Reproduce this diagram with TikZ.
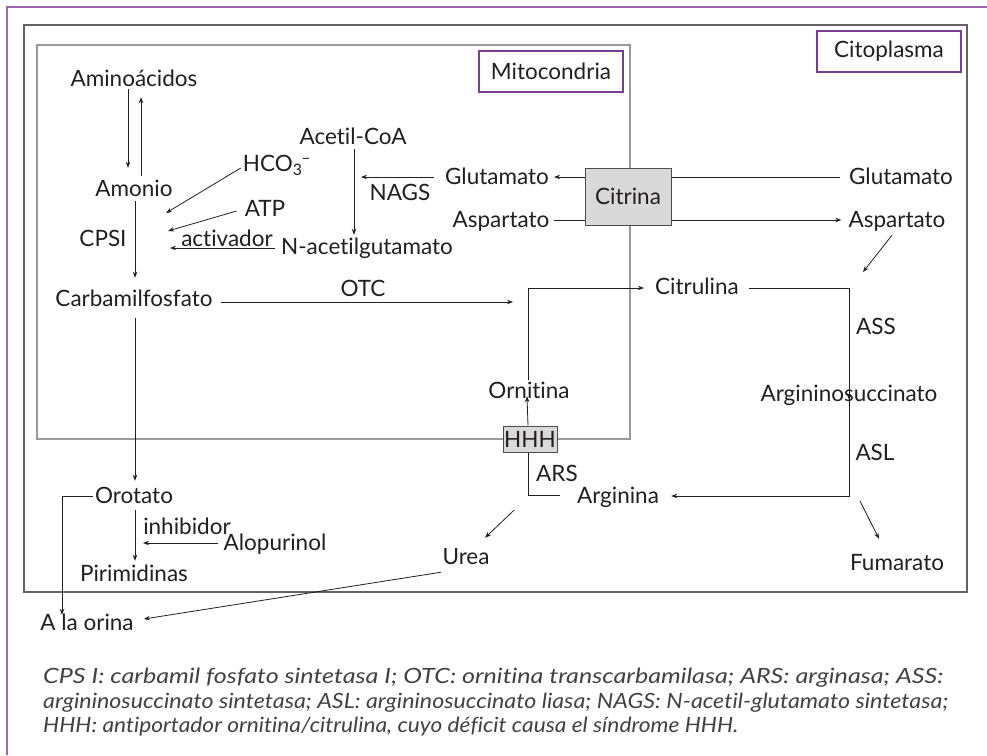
\documentclass[tikz,border=0pt]{standalone}
\usepackage{graphicx}
\usepackage{fontspec}
\setmainfont{Lato}[Ligatures={NoCommon,NoContextual}]
\usetikzlibrary{arrows.meta}
\definecolor{frameviolet}{HTML}{9A6AAE}
\definecolor{labelviolet}{HTML}{7A3E8E}
\definecolor{boxgray}{HTML}{D9D9D9}
\definecolor{inkcol}{HTML}{231F20}
% set a legend line to a given width, keeping its height
\newcommand\legendrow[2]{\resizebox{#1}{\height}{#2}}
\begin{document}
\begin{tikzpicture}[x=1pt,y=-1pt,
  lbl/.style={inner sep=0pt,text=inkcol,font=\fontsize{22.5}{26}\selectfont,text height=16pt,text depth=0pt},
  tagbox/.style={draw=labelviolet,line width=1.1pt,minimum width=144pt,minimum height=41pt,inner sep=0pt,text=inkcol,font=\fontsize{22.5}{26}\selectfont},
  carrier/.style={draw=inkcol!80,line width=1pt,fill=boxgray,inner sep=0pt,text=inkcol,font=\fontsize{22.5}{26}\selectfont},
  conn/.style={draw=inkcol,line width=0.8pt},
  arr/.style={conn,-{Stealth[length=6pt,width=4.5pt]}},
  legendline/.style={inner sep=0pt,anchor=west,text=inkcol!85,font=\fontsize{21}{24}\selectfont\itshape}]
\useasboundingbox (0,0) rectangle (987,755);
\fill[white] (0,0) rectangle (987,755);

% outer frame (left and top edges)
\draw[frameviolet,line width=1.6pt] (7,755) -- (7,7) -- (987,7);

% compartments
\draw[inkcol!70,line width=1.1pt] (24,25) rectangle (967,592);
\draw[black!40,line width=1.3pt] (37,45) rectangle (630,439);
\node[tagbox] (mitotag) at (551,71.5) {Mitocondria};
\node[tagbox] (citotag) at (889,51.5) {Citoplasma};

% metabolites and enzymes
\node[lbl] (amino) at (134,78) {Aminoácidos};
\node[lbl] (amonio) at (134,188) {Amonio};
\node[lbl] (hco) at (277,163) {HCO\textsubscript{3}\kern-1pt\textsuperscript{–}};
\node[lbl] (atp) at (265,208) {ATP};
\node[lbl] (cpsi) at (103,238) {CPSI};
\node[lbl] (activ) at (227,238) {activador};
\node[lbl] (nacetil) at (367,246) {N-acetilgutamato};
\node[lbl] (acetil) at (353,136) {Acetil-CoA};
\node[lbl] (nags) at (400,192) {NAGS};
\node[lbl] (glul) at (497,176) {Glutamato};
\node[lbl] (aspl) at (501,219) {Aspartato};
\node[lbl] (glur) at (901,176) {Glutamato};
\node[lbl] (aspr) at (897,219) {Aspartato};
\node[lbl] (citrul) at (697,286) {Citrulina};
\node[lbl] (ass) at (876,326) {ASS};
\node[lbl] (argsuc) at (849,393) {Argininosuccinato};
\node[lbl] (asl) at (875,452) {ASL};
\node[lbl] (arginina) at (618,495) {Arginina};
\node[lbl] (fumarato) at (897,562) {Fumarato};
\node[lbl] (ornitina) at (529,390) {Ornitina};
\node[lbl] (ars) at (557,473) {ARS};
\node[lbl] (carb) at (134,298) {Carbamilfosfato};
\node[lbl] (otc) at (363,288) {OTC};
\node[lbl] (orotato) at (134,495) {Orotato};
\node[lbl] (inhib) at (187,526) {inhibidor};
\node[lbl] (alopur) at (275,542) {Alopurinol};
\node[lbl] (pirim) at (134,573) {Pirimidinas};
\node[lbl] (urea) at (466,556) {Urea};
\node[lbl] (orina) at (87,622) {A la orina};

% connector bends
\coordinate (ornup) at (528,288);
\coordinate (citturn) at (849,288);
\coordinate (aslturn) at (849,496);
\coordinate (arsturn) at (528,495);
\coordinate (oroturn) at (62,496);

% citrin carrier: glutamate in, aspartate out
\draw[conn] ([xshift=-9pt]glur.west |- 0,177) -- (671,177);
\draw[conn] ([xshift=4pt]aspl.east |- 0,220) -- (585,220);
\node[carrier,minimum width=86pt,minimum height=57pt] (citrina) at (628,196.5) {Citrina};
\draw[arr] (citrina.west |- 0,177) -- ([xshift=5pt]glul.east |- 0,177);
\draw[arr] (citrina.east |- 0,220) -- ([xshift=-7pt]aspr.west |- 0,220);

% ornithine/citrulline antiporter
\draw[arr] ([shift={(-1,-2)}]ornitina.north) -- (ornup) -- ([xshift=-11pt]citrul.west |- ornup);
\node[carrier,minimum width=54pt,minimum height=26pt] (hhh) at (530,439) {HHH};
\draw[arr] (hhh.north -| ornup) -- ([shift={(-1,-2)}]ornitina.south -| ornup);
\draw[conn] ([xshift=-17pt]arginina.west) -- (arsturn) -- (hhh.south -| arsturn);

% mitochondrial steps
\draw[arr] ([shift={(-6,3)}]amino.south) -- ([shift={(-6,-12)}]amonio.north);
\draw[arr] ([shift={(7,-4)}]amonio.north) -- ([shift={(7,11)}]amino.south);
\draw[arr] ([shift={(1,5)}]amonio.south) -- ([shift={(1,-12)}]carb.north);
\draw[arr] ([shift={(-2,5)}]hco.west) -- (166,213);
\draw[arr] ([shift={(-8,3)}]atp.west) -- (168,231);
\draw[arr] ([shift={(-6,2)}]nacetil.west) -- (170,248);
\draw[arr] ([shift={(1,5)}]acetil.south) -- ([shift={(-13,-3)}]nacetil.north);
\draw[arr] ([shift={(-11,1)}]glul.west) -- (361,177);

% urea cycle in the cytosol
\draw[arr] ([shift={(-5,8)}]aspr.south) -- (863,272);
\draw[arr] ([xshift=10pt]citrul.east |- citturn) -- (citturn) -- ([yshift=-15pt]argsuc.north -| citturn);
\draw[arr] ([yshift=12pt]argsuc.south -| aslturn) -- (aslturn) -- ([xshift=12pt]arginina.east |- aslturn);
\draw[arr] (860,501) -- ([shift={(-18,-15)}]fumarato.north);
\draw[arr] ([shift={(-104,7)}]arginina.south) -- ([shift={(19,-10)}]urea.north);

% carbamoyl phosphate fates
\draw[arr] ([xshift=8pt]carb.east |- 0,302) -- (513,302);
\draw[arr] ([shift={(1,12)}]carb.south) -- ([shift={(1,-6)}]orotato.north);
\draw[arr] ([xshift=-2pt]orotato.west |- oroturn) -- (oroturn) -- ([yshift=-1pt]oroturn |- orina.north);
\draw[arr] ([shift={(1,7)}]orotato.south) -- ([shift={(1,-4)}]pirim.north);
\draw[arr] ([shift={(-5,1)}]alopur.west) -- (143,543);
\draw[arr] ([shift={(-25,8)}]urea.south) -- ([shift={(10,-3)}]orina.east);

% legend
\node[legendline] (cap1) at (43,678) {\legendrow{900pt}{CPS I: carbamil fosfato sintetasa I; OTC: ornitina transcarbamilasa; ARS: arginasa; ASS:}};
\node[legendline] (cap2) at (43,703) {\legendrow{905pt}{argininosuccinato sintetasa; ASL: argininosuccinato liasa; NAGS: N-acetil-glutamato sintetasa;}};
\node[legendline] (cap3) at (43,727) {\legendrow{695pt}{HHH: antiportador ornitina/citrulina, cuyo déficit causa el síndrome HHH.}};
\end{tikzpicture}
\end{document}
